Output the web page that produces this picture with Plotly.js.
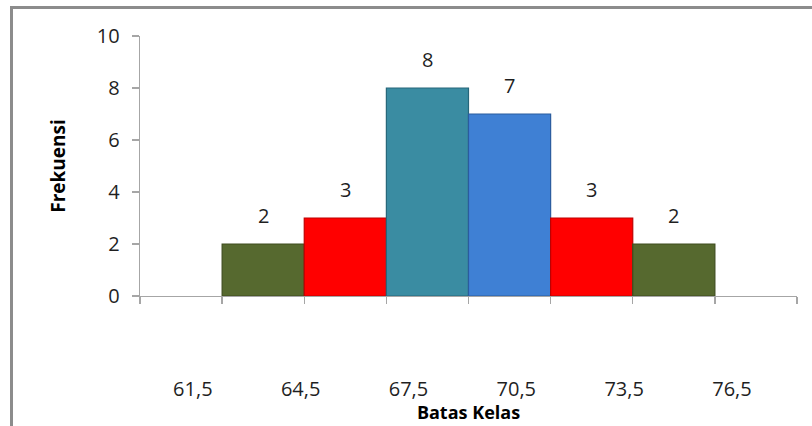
<!DOCTYPE html>
<html>
<head>
<meta charset="utf-8">
<script src="https://cdn.plot.ly/plotly-3.0.1.min.js"></script>
<style>
  html, body { margin: 0; padding: 0; background: #fff; }
  #chart { width: 812px; height: 426px; position: relative; }
  #frame { position: absolute; left: 10px; top: 6px; width: 900px; height: 500px;
           border-left: 3px solid #8c8c8c; border-top: 3px solid #8c8c8c; pointer-events: none; }
</style>
</head>
<body>
<div id="chart"></div>
<div id="frame"></div>
<script>
// Data
const boundaries = [61.5, 64.5, 67.5, 70.5, 73.5, 76.5];
const boundaryLabels = ['61,5', '64,5', '67,5', '70,5', '73,5', '76,5'];
const frequencies = [2, 3, 8, 7, 3, 2];
const barColors = ['#56692F', '#FF0000', '#3A8CA2', '#3F80D4', '#FF0000', '#56692F'];
const barEdges = ['#3E4D1F', '#C00000', '#26667A', '#2A5C9E', '#C00000', '#3E4D1F'];

// Bars sit in slots 2..7 of an 8-slot category axis
const slotCount = frequencies.length + 2;
const barPos = frequencies.map((_, i) => i + 2);

const trace = {
  type: 'bar',
  x: barPos,
  y: frequencies,
  width: 1,
  marker: { color: barColors, line: { color: barEdges, width: 1.2 } },
  hoverinfo: 'skip',
  showlegend: false
};

// Invisible trace carrying the boundary label axis
const labelTrace = {
  type: 'scatter', mode: 'markers', x: boundaries, y: boundaries.map(() => 0),
  xaxis: 'x2', marker: { opacity: 0 }, hoverinfo: 'skip', showlegend: false
};

const tickFont = { family: 'Open Sans, sans-serif', size: 20, color: '#1f1f1f' };

const annotations = frequencies.map((v, i) => ({
  x: barPos[i], y: v, xref: 'x', yref: 'y', text: String(v),
  showarrow: false, yanchor: 'bottom', yshift: 13,
  font: tickFont
}));

const grey = '#a6a6a6';
const layout = {
  width: 812, height: 426,
  margin: { l: 140, r: 15, t: 36, b: 130 },
  paper_bgcolor: '#fff', plot_bgcolor: '#fff',
  bargap: 0,
  xaxis: {
    range: [0.5, slotCount + 0.5], tickmode: 'linear', tick0: 0.5, dtick: 1,
    showticklabels: false, ticks: 'outside', ticklen: 7, tickcolor: grey, tickwidth: 1.3,
    showline: true, linecolor: grey, linewidth: 1.3, showgrid: false, zeroline: false,
    title: { text: 'Batas Kelas', standoff: 103,
             font: { family: 'Open Sans, sans-serif', size: 18, color: '#000', weight: 'bold' } }
  },
  xaxis2: {
    overlaying: 'x', anchor: 'y', side: 'bottom',
    range: [60.03, 78.31], tickmode: 'array', tickvals: boundaries, ticktext: boundaryLabels,
    ticks: '', showline: false, showgrid: false, zeroline: false,
    ticklabelstandoff: 79,
    tickfont: tickFont
  },
  yaxis: {
    range: [0, 10], tickmode: 'linear', tick0: 0, dtick: 2,
    ticks: 'outside', ticklen: 7, tickcolor: grey, tickwidth: 1.3,
    showline: true, linecolor: grey, linewidth: 1.3, showgrid: false, zeroline: false,
    ticklabelstandoff: 8,
    tickfont: tickFont,
    title: { text: 'Frekuensi', standoff: 26,
             font: { family: 'Open Sans, sans-serif', size: 19, color: '#000', weight: 'bold' } }
  },
  annotations: annotations
};

Plotly.newPlot('chart', [trace, labelTrace], layout, { displayModeBar: false, staticPlot: true });
</script>
</body>
</html>
